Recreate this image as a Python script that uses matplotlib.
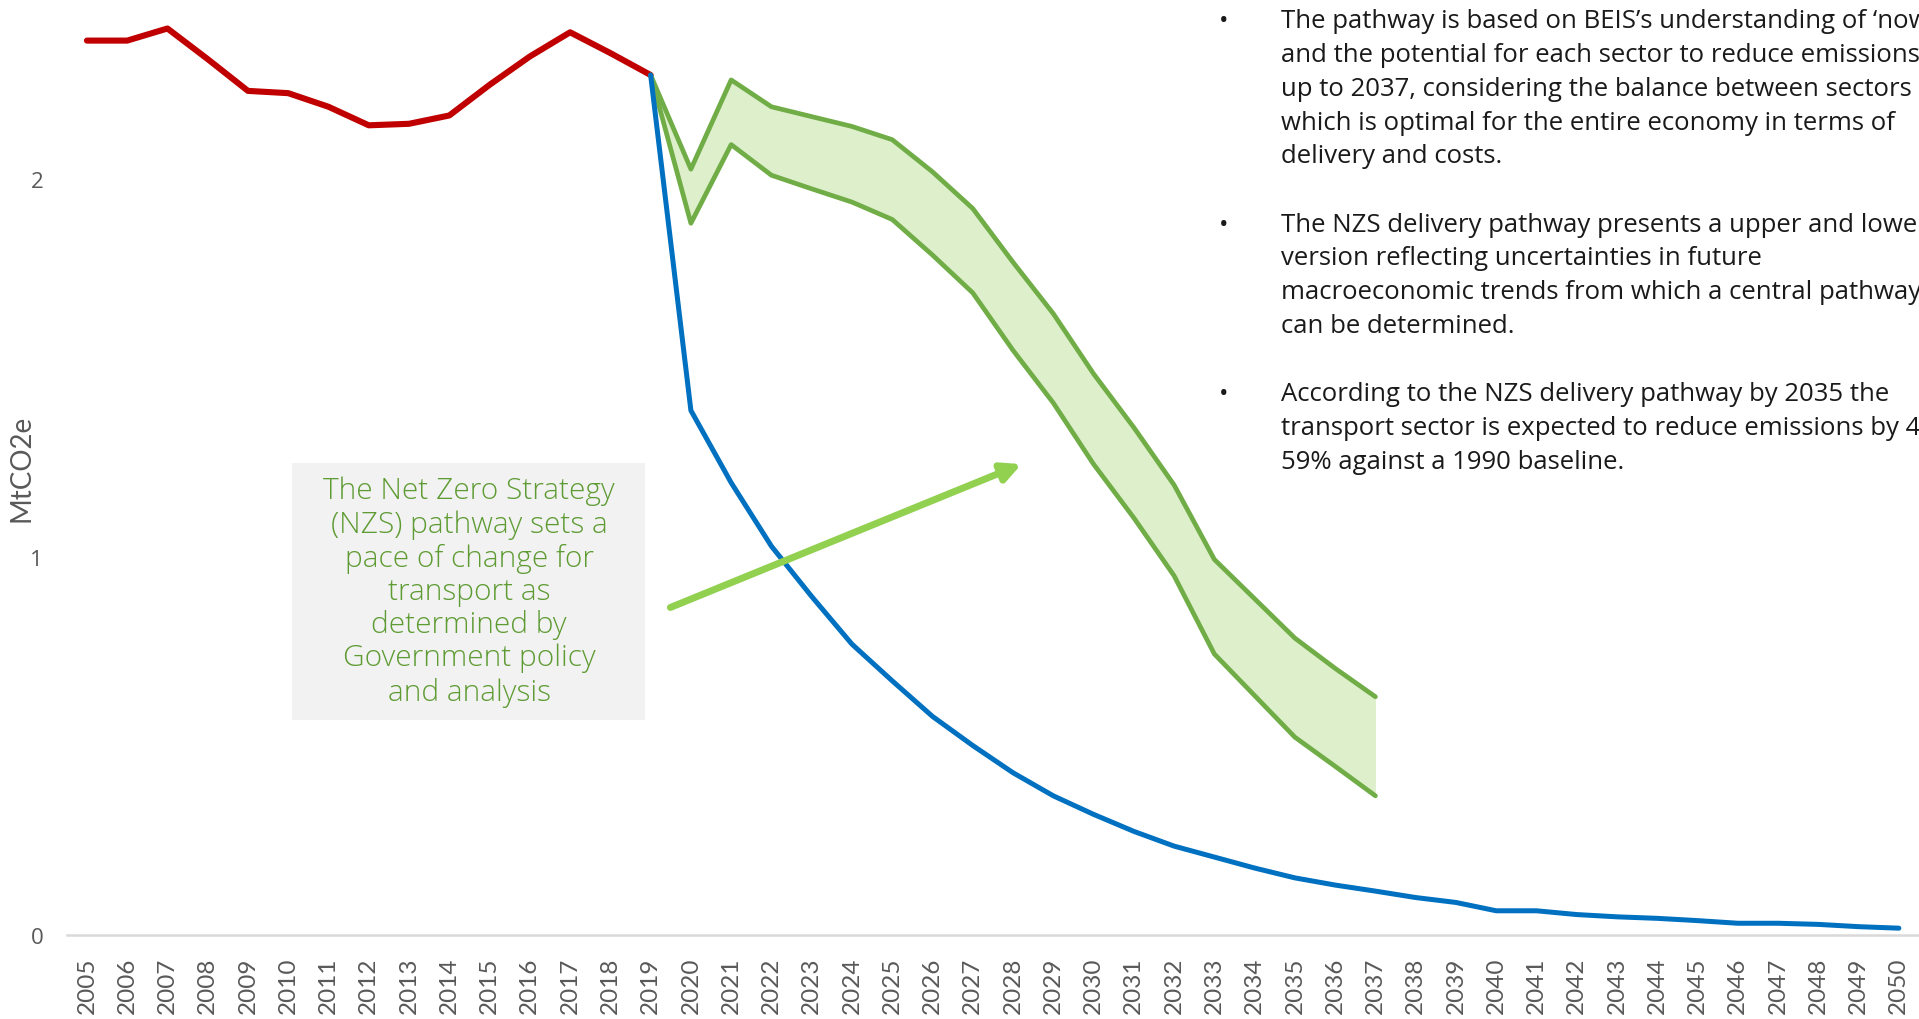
import matplotlib.pyplot as plt
from matplotlib.patches import Rectangle

plt.rcParams['font.family'] = ['Open Sans', 'DejaVu Sans']

# historic emissions (red)
hist_years = list(range(2005, 2020))
hist_vals = [2.366, 2.366, 2.398, 2.317, 2.233, 2.227, 2.191, 2.142, 2.146,
             2.168, 2.249, 2.324, 2.388, 2.333, 2.275]

# net zero pathway (blue)
nz_years = list(range(2019, 2051))
nz_vals = [2.275, 1.388, 1.197, 1.029, 0.896, 0.770, 0.673, 0.579, 0.502,
           0.430, 0.369, 0.320, 0.275, 0.236, 0.207, 0.178, 0.152, 0.133,
           0.117, 0.100, 0.087, 0.065, 0.065, 0.055, 0.049, 0.045, 0.039,
           0.032, 0.032, 0.029, 0.023, 0.019]

# NZS delivery pathway, upper and lower (green)
nzs_years = list(range(2019, 2038))
nzs_upper = [2.275, 2.026, 2.262, 2.191, 2.165, 2.139, 2.104, 2.019, 1.922,
             1.780, 1.644, 1.485, 1.343, 1.191, 0.994, 0.890, 0.786, 0.706, 0.631]
nzs_lower = [2.275, 1.883, 2.091, 2.010, 1.974, 1.939, 1.893, 1.799, 1.699,
             1.547, 1.408, 1.246, 1.104, 0.951, 0.744, 0.634, 0.524, 0.447, 0.369]

all_years = list(range(2005, 2051))

box_lines = ["The Net Zero Strategy", "(NZS) pathway sets a", "pace of change for",
             "transport as", "determined by", "Government policy", "and analysis"]

notes = [
    ["The pathway is based on BEIS\u2019s understanding of \u2018now\u2019",
     "and the potential for each sector to reduce emissions",
     "up to 2037, considering the balance between sectors",
     "which is optimal for the entire economy in terms of",
     "delivery and costs."],
    ["The NZS delivery pathway presents a upper and lower",
     "version reflecting uncertainties in future",
     "macroeconomic trends from which a central pathway",
     "can be determined."],
    ["According to the NZS delivery pathway by 2035 the",
     "transport sector is expected to reduce emissions by 4",
     "59% against a 1990 baseline."],
]

fig = plt.figure(figsize=(19.19, 10.20), dpi=100)
ax = fig.add_axes([0.0348, 0.082, 0.9652, 0.918])

ax.fill_between(nzs_years, nzs_lower, nzs_upper, color='#DEEFCB', lw=0)
ax.plot(hist_years, hist_vals, color='#C00000', lw=4.4, solid_capstyle='round', zorder=3)
ax.plot(nz_years, nz_vals, color='#0070C0', lw=3.6, solid_capstyle='round', zorder=4)
ax.plot(nzs_years, nzs_upper, color='#70AD47', lw=3.4, solid_capstyle='round', zorder=3)
ax.plot(nzs_years, nzs_lower, color='#70AD47', lw=3.4, solid_capstyle='round', zorder=3)

ax.set_xlim(2004.5, 2050.5)
ax.set_ylim(0, 2.476)
ax.set_xticks(all_years)
ax.set_xticklabels([str(y) for y in all_years], rotation=90, fontsize=17.5,
                   color='#595959', family=['Lato', 'DejaVu Sans'])
ax.set_yticks([0, 1, 2])
ax.set_yticklabels(['0', '1', '2'], fontsize=16, color='#595959')
ax.tick_params(axis='both', length=0)
ax.tick_params(axis='x', pad=15)
ax.tick_params(axis='y', pad=17)

for s in ['top', 'right', 'left']:
    ax.spines[s].set_visible(False)
ax.spines['bottom'].set_color('#D9D9D9')
ax.spines['bottom'].set_linewidth(1.8)

ax.set_ylabel('MtCO2e', fontsize=20, color='#595959', family=['Lato', 'DejaVu Sans'])
ax.yaxis.set_label_coords(-0.0175, 0.5)

# arrow pointing at the NZS band
ax.annotate('', xy=(2028.21, 1.246), xytext=(2019.49, 0.867),
            arrowprops=dict(arrowstyle='-|>', lw=5, color='#92D050',
                            mutation_scale=28, shrinkA=0, shrinkB=0), zorder=5)

# grey call-out box
fig.patches.append(Rectangle((0.1524, 0.2931), 0.1839, 0.252, transform=fig.transFigure,
                             facecolor='#F2F2F2', edgecolor='none', zorder=0))
box_y = [491, 525, 559, 592, 625, 658, 693]
for txt, py in zip(box_lines, box_y):
    fig.text(469 / 1919, 1 - py / 1020, txt, ha='center', va='center',
             fontsize=21.5, color='#5E9B33', fontweight='light')

# bullet notes on the right (run past the right edge, as in the source slide)
para_top = [22, 225, 395]
for lines, top in zip(notes, para_top):
    fig.text(1224 / 1919, 1 - top / 1020, '\u2022', ha='center', va='center',
             fontsize=18, color='#1a1a1a')
    for i, line in enumerate(lines):
        fig.text(1281 / 1919, 1 - (top + i * 33.7) / 1020, line, ha='left',
                 va='center', fontsize=18.5, color='#1a1a1a')

fig.savefig('out.png', dpi=100)
